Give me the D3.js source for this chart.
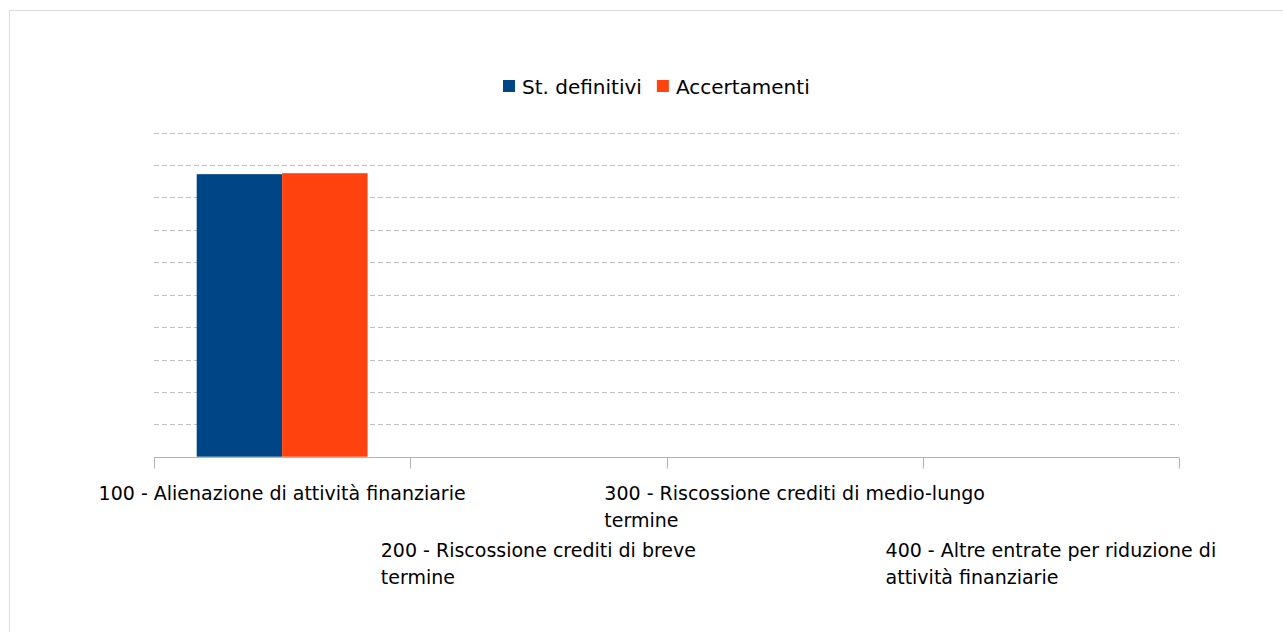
<!DOCTYPE html>
<html>
<head>
<meta charset="utf-8">
<script src="https://cdn.jsdelivr.net/npm/d3@7"></script>
<style>
  html, body { margin: 0; padding: 0; background: #fff; }
  svg { display: block; }
  text { font-family: "DejaVu Sans", Verdana, sans-serif; fill: #000; }
</style>
</head>
<body>
<svg id="chart" width="1283" height="632"></svg>
<script>
// Entrate per riduzione di attività finanziarie: stanziamenti definitivi vs accertamenti
const categories = [
  "100 - Alienazione di attività finanziarie",
  "200 - Riscossione crediti di breve\ntermine",
  "300 - Riscossione crediti di medio-lungo\ntermine",
  "400 - Altre entrate per riduzione di\nattività finanziarie"
];
const seriesNames = ["St. definitivi", "Accertamenti"];
const seriesColors = ["#004586", "#ff420e"];
const stDefinitivi = [87.2, 0, 0, 0];
const accertamenti = [87.5, 0, 0, 0];
const gridTicks = [10, 20, 30, 40, 50, 60, 70, 80, 90, 100];

const svg = d3.select("#chart");
const W = 1283, H = 632;

// outer frame
svg.append("rect")
  .attr("x", 9.5).attr("y", 10.5)
  .attr("width", W + 10).attr("height", H + 10)
  .attr("fill", "none").attr("stroke", "#dcdcdc").attr("stroke-width", 1);

const plot = { left: 154, right: 1179, top: 132.7, bottom: 456.7 };

const x = d3.scaleBand()
  .domain(categories)
  .range([plot.left, plot.right])
  .paddingInner(0).paddingOuter(0);

const x1 = d3.scaleBand()
  .domain(seriesNames)
  .range([0, x.bandwidth()])
  .paddingInner(0)
  .paddingOuter(0.5);

const y = d3.scaleLinear()
  .domain([0, 100])
  .range([plot.bottom, plot.top]);

// dashed horizontal gridlines
svg.append("g")
  .selectAll("line")
  .data(gridTicks)
  .join("line")
  .attr("x1", plot.left).attr("x2", plot.right)
  .attr("y1", d => Math.round(y(d)) + 0.5)
  .attr("y2", d => Math.round(y(d)) + 0.5)
  .attr("stroke", "#c0c0c0")
  .attr("stroke-width", 1)
  .attr("stroke-dasharray", "5,3");

// bars
const rows = categories.map((c, i) => ({
  cat: c,
  values: [
    { name: seriesNames[0], value: stDefinitivi[i], color: seriesColors[0] },
    { name: seriesNames[1], value: accertamenti[i], color: seriesColors[1] }
  ]
}));

svg.append("g")
  .selectAll("g")
  .data(rows)
  .join("g")
  .attr("transform", d => `translate(${x(d.cat)},0)`)
  .selectAll("rect")
  .data(d => d.values.filter(v => v.value > 0))
  .join("rect")
  .attr("x", d => x1(d.name))
  .attr("width", x1.bandwidth())
  .attr("y", d => y(d.value))
  .attr("height", d => y(0) - y(d.value))
  .attr("fill", d => d.color);

// category axis
const axis = svg.append("g")
  .attr("transform", `translate(0,${Math.round(plot.bottom) + 0.5})`);
axis.append("line")
  .attr("x1", plot.left).attr("x2", plot.right)
  .attr("stroke", "#b3b3b3");
const tickPos = categories.map(c => x(c)).concat([plot.right]);
axis.selectAll("line.tick")
  .data(tickPos)
  .join("line")
  .attr("class", "tick")
  .attr("x1", d => Math.round(d) + 0.5).attr("x2", d => Math.round(d) + 0.5)
  .attr("y1", 0).attr("y2", 11)
  .attr("stroke", "#b3b3b3");

// category labels, staggered on two rows, wrapped lines left-aligned in a centred block
const labelFont = 19;
const labelG = svg.append("g");
categories.forEach((c, i) => {
  const lines = c.split("\n");
  const baseY = i % 2 === 0 ? 500 : 556.5;
  const t = labelG.append("text")
    .attr("font-size", labelFont);
  lines.forEach((ln, k) => {
    t.append("tspan").attr("x", 0).attr("y", baseY + k * 27).text(ln);
  });
  const bw = t.node().getBBox().width;
  const cx = x(c) + x.bandwidth() / 2;
  t.attr("transform", `translate(${cx - bw / 2},0)`);
});

// legend
const legendLeft = 503;
const legend = svg.append("g");
const legendItems = legend.selectAll("g")
  .data(seriesNames)
  .join("g");
legendItems.append("rect")
  .attr("width", 12).attr("height", 12)
  .attr("y", 80)
  .attr("fill", (d, i) => seriesColors[i]);
legendItems.append("text")
  .attr("font-size", 20)
  .attr("x", 19).attr("y", 94)
  .text(d => d);
const widths = [];
legendItems.each(function () { widths.push(this.getBBox().width); });
const gap = 15;
legendItems.attr("transform", (d, i) => {
  const tx = legendLeft + d3.sum(widths.slice(0, i)) + gap * i;
  return `translate(${tx},0)`;
});
</script>
</body>
</html>
